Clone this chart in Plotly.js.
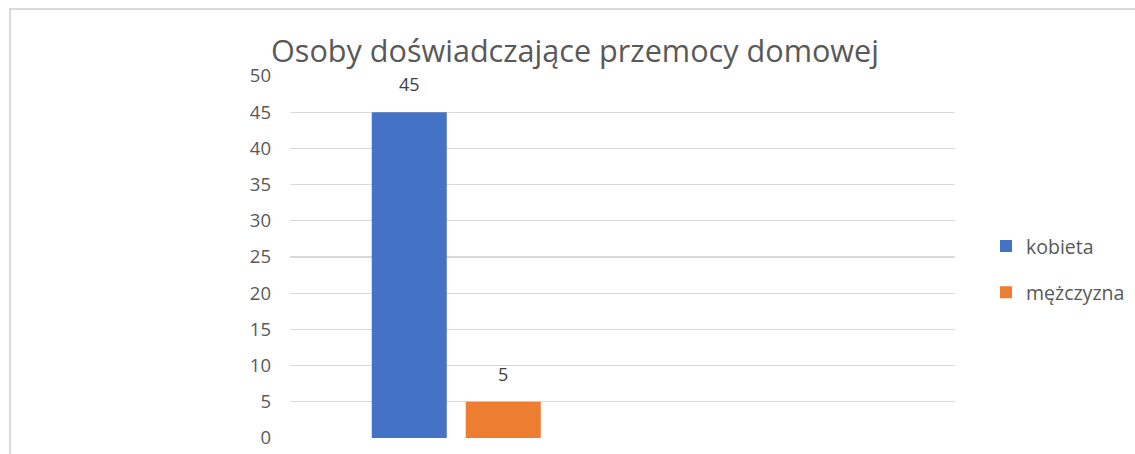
<!DOCTYPE html>
<html>
<head>
<meta charset="utf-8">
<script src="https://cdn.plot.ly/plotly-3.0.1.min.js"></script>
<style>
  html, body { margin: 0; padding: 0; background: #fff; }
  #wrap { position: relative; width: 1135px; height: 454px; overflow: hidden; }
  #chart { position: absolute; left: 0; top: 0; width: 1135px; height: 454px; }
  #frame { position: absolute; left: 9px; top: 8px; width: 1200px; height: 500px;
           border: 2px solid #d9d9d9; box-sizing: border-box; pointer-events: none; }
</style>
</head>
<body>
<div id="wrap">
  <div id="chart"></div>
  <div id="frame"></div>
</div>
<script>
// ---- data ----
const categories = ['1', '2'];
const seriesNames = ['kobieta', 'mężczyzna'];
const kobieta = [45, null];
const mezczyzna = [5, null];
const yTicks = [0, 5, 10, 15, 20, 25, 30, 35, 40, 45, 50];
const titleText = 'Osoby doświadczające przemocy domowej';

// ---- style ----
const colors = ['#4472c4', '#ed7d31'];
const FONT = 'Open Sans, DejaVu Sans, sans-serif';
const bargap = 0.4346;
const bargroupgap = 0.202;
const slot = (1 - bargap) / 2;

const series = [kobieta, mezczyzna];
const traces = series.map((vals, i) => ({
  type: 'bar',
  name: seriesNames[i],
  x: categories,
  y: vals,
  marker: { color: colors[i] },
  legendgroup: 'g' + i,
  hoverinfo: 'none'
}));

const annotations = [];
series.forEach((vals, i) => {
  vals.forEach((v, j) => {
    if (v === null || v === undefined) return;
    annotations.push({
      xref: 'x', yref: 'y',
      x: j + (i - (series.length - 1) / 2) * slot,
      y: v,
      text: String(v),
      showarrow: false,
      yanchor: 'bottom',
      yshift: 14,
      font: { family: FONT, size: 18, color: '#404040' }
    });
  });
});

const layout = {
  width: 1135, height: 454,
  margin: { l: 290, r: 180, t: 76, b: 15.5, pad: 0, autoexpand: false },
  paper_bgcolor: 'rgba(0,0,0,0)',
  plot_bgcolor: 'rgba(0,0,0,0)',
  barmode: 'group',
  bargap: bargap,
  bargroupgap: bargroupgap,
  title: {
    text: titleText,
    font: { family: FONT, size: 30.6, color: '#595959' },
    xref: 'container', yref: 'container',
    x: 575 / 1135, xanchor: 'center',
    y: 1 - 51 / 454, yanchor: 'middle'
  },
  xaxis: {
    type: 'category',
    categoryarray: categories,
    range: [-0.5, 1.5],
    showticklabels: false,
    showgrid: false,
    zeroline: false,
    showline: false,
    ticks: ''
  },
  yaxis: {
    range: [0, 50],
    tickvals: yTicks,
    ticktext: yTicks.map(String),
    showgrid: true,
    gridcolor: '#d9d9d9',
    gridwidth: 1.3,
    zeroline: false,
    showline: false,
    ticks: '',
    ticklabelstandoff: 18,
    tickfont: { family: FONT, size: 18.5, color: '#595959' }
  },
  showlegend: true,
  legend: {
    x: (986 - 290) / 665, xanchor: 'left',
    y: (438.5 - 227) / 362.5, yanchor: 'top',
    font: { family: FONT, size: 19.5, color: '#595959' },
    tracegroupgap: 18,
    bgcolor: 'rgba(0,0,0,0)'
  },
  annotations: annotations
};

Plotly.newPlot('chart', traces, layout, { displayModeBar: false, staticPlot: true });
</script>
</body>
</html>
